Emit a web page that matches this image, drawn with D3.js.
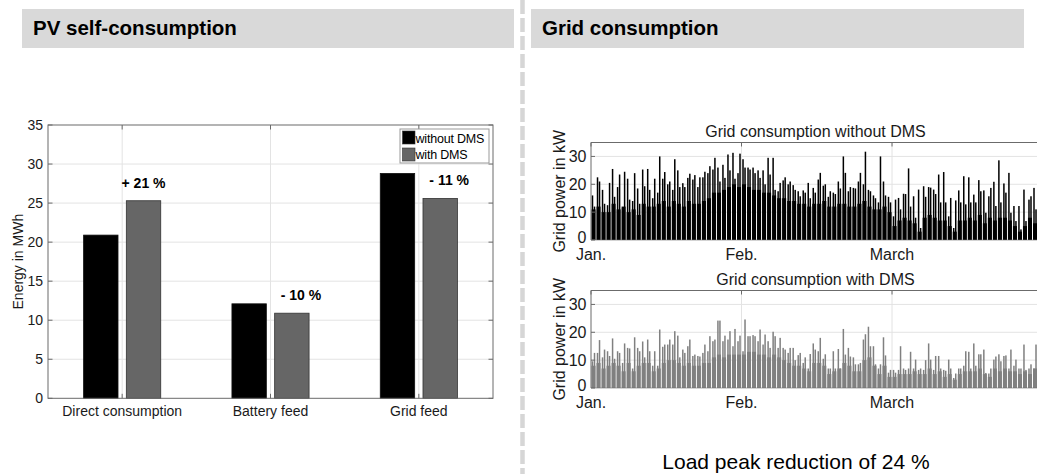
<!DOCTYPE html>
<html>
<head>
<meta charset="utf-8">
<script src="https://cdn.jsdelivr.net/npm/d3@7"></script>
<style>
  html, body { margin: 0; padding: 0; background: #fff; }
  svg { display: block; font-family: "Liberation Sans", Arial, sans-serif; }
</style>
</head>
<body>
<script>
// ---------------- DATA ----------------
const categories = ["Direct consumption", "Battery feed", "Grid feed"];
const withoutDMS = [20.9, 12.1, 28.8];
const withDMS = [25.3, 10.9, 25.6];
const changeLabels = ["+ 21 %", "- 10 %", "- 11 %"];
const seriesNames = ["without DMS", "with DMS"];
const energyTicks = [0, 5, 10, 15, 20, 25, 30, 35];

const monthLabels = ["Jan.", "Feb.", "March"];
const monthTickDays = [0, 30, 60];
const powerTicks = [0, 10, 20, 30];

// grid consumption without DMS: two load spikes per day (kW), days 1..90
const peaksWithout = [
  16,12, 22.5,21, 18,13, 12.5,20.5, 25.5,15.5, 19,23.5, 11.5,24.5, 22,14.5, 14,24, 18.5,13,
  25.3,19.3, 25.5,18, 15,22, 17,30, 22,24.4, 20,21, 18,29, 25,19, 20.4,19, 22.3,23.8,
  21.7,23.3, 19,22.5, 22.5,24.5, 24,26.5, 25.3,29.5, 26,21, 27,22.3, 30.7,25, 31.3,22, 24,31,
  29,26, 26,25.3, 26,24, 25,22.3, 25,20, 29.5,23.5, 29.5,18, 17.5,20.5, 21.4,22.5, 20,21,
  19.7,18, 17.5,15.7, 17.8,17, 20.5,15, 18.7,17, 21.7,24.1, 19.5,20, 15.5,17.5, 17,16.5, 21,18.5,
  30,24.1, 17.5,19, 18.7,18.5, 21,24.1, 20,31.7, 18,17.5, 16,15, 13.5,30, 21,16, 15.5,13.5,
  8.5,14.5, 15.1,11, 16.6,16.5, 25.7,12, 15.7,8, 18.1,4.3, 19.3,15.5, 19,18.8, 18.1,16.5, 23.5,13.5,
  24.4,13.5, 8.5,15.1, 4.3,14.2, 17.8,13.5, 22.9,12.8, 22.5,13.5, 16.3,13.5, 21.5,17.5, 17.8,9.8, 15.7,18.7,
  20.9,12.2, 28.6,13.5, 20.3,17, 24.1,9.8, 12.2,6.8, 12.2,3.8, 18.1,6.8, 14.5,15.7, 18.7,11, 16,18
];
// daily base load without DMS (kW)
const baseWithout = [
  11,12,10,10,13,11,12,10,11,9, 13,12,12,13,14,12,14,13,12,14, 13,13,14,15,17,17,18,19,20,19,
  20,19,18,18,17,17,16,15,15,14, 14,13,13,12,13,13,14,12,12,13, 13,12,12,13,14,12,11,11,12,10,
  5,7,8,7,6,3,8,9,8,7, 7,5,3,7,7,8,7,9,6,8, 7,8,8,7,5,3,5,8,6,8
];
// grid consumption with DMS: two load spikes per day (kW)
const peaksWith = [
  9.6,12.6, 12.6,17.2, 11,13.8, 13.2,11.5, 17.8,10.5, 13.2,12.6, 9,16, 14.4,14.2, 7,18.2, 14.4,13.2,
  16.7,11, 17.4,13.2, 8,13.2, 8,21, 14.8,15.6, 15.6,17.4, 15.6,20.4, 18.8,11, 13.8,12.6, 15,17.4,
  11.5,12, 11.5,11.3, 12.6,15.6, 13.2,18.6, 16.8,17.4, 24.2,24.2, 16.8,18.8, 17.4,20.4, 15,21.2, 16.8,18.8,
  13.2,24.6, 18.6,18.6, 19,18.6, 16.8,21, 15.6,19.2, 16.8,14.4, 20.2,18.6, 14.4,18, 14.4,13.8, 12.6,14.4,
  14.4,10, 11.8,12.6, 9,11, 7,12.2, 16,13.8, 13.2,18, 10.5,12.1, 7,7, 13.2,7, 14,7,
  21.2,12, 14.4,11.3, 11,8.5, 8.5,9, 17.4,19.3, 22,15, 15,8.5, 7,8.5, 18.2,11.7, 5.5,6.5,
  6.5,5.5, 6.5,15, 7,6.5, 7,13, 7,10.2, 6.5,7, 6.5,10, 16,10.2, 6.5,11.5, 11.5,7,
  6.5,6.2, 10.2,7, 3.6,5.2, 7,7, 8,13.2, 13,7, 16,8, 12.1,12.1, 13.8,5.4, 5.2,7,
  10.2,11.3, 12.1,9.6, 11.5,11.7, 7,13.8, 8,10.2, 7,7, 15.6,6.5, 7,8.5, 7,15.6, 8,7
];
// daily base load with DMS (kW)
const baseWith = [
  8,9,7,8,9,8,6,9,6,8, 9,9,6,7,9,10,10,9,8,9, 8,8,9,9,11,12,11,12,12,12,
  12,13,13,12,12,11,12,11,10,9, 8,8,7,6,9,9,8,5,6,7, 9,8,6,6,10,11,8,5,8,4,
  4,5,5,5,6,5,5,7,5,6, 4,5,3,5,6,6,6,7,5,4, 7,6,7,6,6,5,6,5,7,5
];

// ---------------- DRAWING ----------------
const W = 1037, H = 474;
const svg = d3.select("body").append("svg").attr("width", W).attr("height", H);
const txt = "#1a1a1a";
const axisCol = "#6b6b6b";
const gridCol = "#e3e3e3";

// Section headers
svg.append("rect").attr("x", 22).attr("y", 9).attr("width", 492).attr("height", 39).attr("fill", "#d9d9d9");
svg.append("rect").attr("x", 531).attr("y", 9).attr("width", 493).attr("height", 39).attr("fill", "#d9d9d9");
svg.append("text").attr("x", 33).attr("y", 35).attr("font-size", 20.5).attr("font-weight", "bold")
  .attr("fill", "#000").text("PV self-consumption");
svg.append("text").attr("x", 542).attr("y", 35).attr("font-size", 20.5).attr("font-weight", "bold")
  .attr("fill", "#000").text("Grid consumption");

// dashed separator
svg.append("line").attr("x1", 522.5).attr("x2", 522.5).attr("y1", 0).attr("y2", H)
  .attr("stroke", "#d6d6d6").attr("stroke-width", 4.5).attr("stroke-dasharray", "14,4");

// ---------- Bar chart ----------
(function barChart() {
  const L = 48, R = 493, T = 125, B = 398.3;
  const x = d3.scaleLinear().domain([0.5, 3.5]).range([L, R]);
  const y = d3.scaleLinear().domain([0, 35]).range([B, T]);
  const g = svg.append("g");
  const barW = 0.232, off = 0.144;

  g.selectAll(".hg").data(energyTicks.slice(1, -1)).join("line")
    .attr("x1", L).attr("x2", R).attr("y1", d => y(d)).attr("y2", d => y(d))
    .attr("stroke", gridCol).attr("stroke-width", 1);
  g.selectAll(".vg").data(categories).join("line")
    .attr("x1", (d, i) => x(i + 1)).attr("x2", (d, i) => x(i + 1)).attr("y1", T).attr("y2", B)
    .attr("stroke", gridCol).attr("stroke-width", 1);

  g.selectAll(".b0").data(withoutDMS).join("rect")
    .attr("x", (d, i) => x(i + 1 - off - barW / 2)).attr("width", x(barW) - x(0))
    .attr("y", d => y(d)).attr("height", d => y(0) - y(d))
    .attr("fill", "#000").attr("stroke", "#111").attr("stroke-width", 0.8);
  g.selectAll(".b1").data(withDMS).join("rect")
    .attr("x", (d, i) => x(i + 1 + off - barW / 2)).attr("width", x(barW) - x(0))
    .attr("y", d => y(d)).attr("height", d => y(0) - y(d))
    .attr("fill", "#666").attr("stroke", "#333").attr("stroke-width", 0.8);

  g.selectAll(".cl").data(changeLabels).join("text")
    .attr("x", (d, i) => x(i + 1 + off) + (d.startsWith("-") ? 9 : 0))
    .attr("y", (d, i) => y(withDMS[i]) - 13)
    .attr("text-anchor", "middle").attr("font-size", 14).attr("font-weight", "bold")
    .attr("fill", "#000").text(d => d);

  g.append("rect").attr("x", L).attr("y", T).attr("width", R - L).attr("height", B - T)
    .attr("fill", "none").attr("stroke", axisCol).attr("stroke-width", 1);

  const tl = 4.5;
  energyTicks.forEach(t => {
    g.append("line").attr("x1", L).attr("x2", L + tl).attr("y1", y(t)).attr("y2", y(t)).attr("stroke", axisCol);
    g.append("line").attr("x1", R).attr("x2", R - tl).attr("y1", y(t)).attr("y2", y(t)).attr("stroke", axisCol);
  });
  categories.forEach((c, i) => {
    g.append("line").attr("x1", x(i + 1)).attr("x2", x(i + 1)).attr("y1", B).attr("y2", B - tl).attr("stroke", axisCol);
    g.append("line").attr("x1", x(i + 1)).attr("x2", x(i + 1)).attr("y1", T).attr("y2", T + tl).attr("stroke", axisCol);
  });

  g.selectAll(".yl").data(energyTicks).join("text")
    .attr("x", L - 5).attr("y", d => y(d)).attr("dy", "0.35em")
    .attr("text-anchor", "end").attr("font-size", 14).attr("fill", txt).text(d => d);
  g.selectAll(".xl").data(categories).join("text")
    .attr("x", (d, i) => x(i + 1)).attr("y", 416)
    .attr("text-anchor", "middle").attr("font-size", 14).attr("fill", txt).text(d => d);
  g.append("text").attr("transform", `translate(23,${(T + B) / 2}) rotate(-90)`)
    .attr("text-anchor", "middle").attr("font-size", 14).attr("fill", txt).text("Energy in MWh");

  const lg = g.append("g");
  lg.append("rect").attr("x", 400).attr("y", 129).attr("width", 89).attr("height", 34)
    .attr("fill", "#fff").attr("stroke", "#999").attr("stroke-width", 1);
  const cols = ["#000", "#666"];
  seriesNames.forEach((s, i) => {
    lg.append("rect").attr("x", 402.5).attr("y", 131 + i * 17).attr("width", 12.5).attr("height", 13)
      .attr("fill", cols[i]).attr("stroke", "#333").attr("stroke-width", 0.6);
    lg.append("text").attr("x", 415.5).attr("y", 142.5 + i * 16.5).attr("font-size", 12.5)
      .attr("fill", "#000").attr("letter-spacing", -0.2).text(s);
  });
})();

// ---------- Time series panels ----------
function panel(top, title, peaks, base, color, clipId) {
  const L = 591, Rv = 1040, bottom = top + 97.5;
  const x = d3.scaleLinear().domain([0, 90]).range([L, L + 90 * 5.017]);
  const y = d3.scaleLinear().domain([0, 35]).range([bottom, top]);
  const g = svg.append("g");

  svg.append("clipPath").attr("id", clipId).append("rect")
    .attr("x", L).attr("y", top).attr("width", Rv - L).attr("height", bottom - top);

  g.selectAll(".hg").data(powerTicks.slice(1)).join("line")
    .attr("x1", L).attr("x2", Rv).attr("y1", d => y(d)).attr("y2", d => y(d))
    .attr("stroke", gridCol);
  g.selectAll(".vg").data(monthTickDays.slice(1)).join("line")
    .attr("x1", d => x(d)).attr("x2", d => x(d)).attr("y1", top).attr("y2", bottom)
    .attr("stroke", gridCol);

  const dg = g.append("g").attr("clip-path", `url(#${clipId})`);
  dg.selectAll(".base").data(base).join("rect")
    .attr("x", (d, i) => x(i + 0.1)).attr("width", x(0.8) - x(0))
    .attr("y", d => y(d)).attr("height", d => y(0) - y(d))
    .attr("fill", color);
  dg.selectAll(".spk").data(peaks).join("rect")
    .attr("x", (d, j) => x(Math.floor(j / 2) + (j % 2 ? 0.7 : 0.3)) - 0.75).attr("width", 1.5)
    .attr("y", d => y(d)).attr("height", d => y(0) - y(d))
    .attr("fill", color);

  g.append("line").attr("x1", L).attr("x2", Rv).attr("y1", top).attr("y2", top).attr("stroke", axisCol);
  g.append("line").attr("x1", L).attr("x2", L).attr("y1", top).attr("y2", bottom).attr("stroke", axisCol);
  g.append("line").attr("x1", L).attr("x2", Rv).attr("y1", bottom).attr("y2", bottom).attr("stroke", axisCol).attr("stroke-width", 0.6);
  powerTicks.forEach(t => {
    g.append("line").attr("x1", L).attr("x2", L + 4).attr("y1", y(t)).attr("y2", y(t)).attr("stroke", axisCol);
  });
  monthTickDays.forEach(t => {
    g.append("line").attr("x1", x(t)).attr("x2", x(t)).attr("y1", top).attr("y2", top + 4).attr("stroke", axisCol);
  });

  g.selectAll(".yl").data(powerTicks).join("text")
    .attr("x", 586.5).attr("y", d => y(d) - (d === 0 ? 3 : 0)).attr("dy", "0.35em")
    .attr("text-anchor", "end").attr("font-size", 16).attr("fill", txt).text(d => d);
  g.selectAll(".xl").data(monthTickDays).join("text")
    .attr("x", d => x(d)).attr("y", bottom + 20)
    .attr("text-anchor", "middle").attr("font-size", 16).attr("fill", txt)
    .text((d, i) => monthLabels[i]);
  g.append("text").attr("x", (L + Rv) / 2).attr("y", top - 6)
    .attr("text-anchor", "middle").attr("font-size", 16).attr("fill", txt).text(title);
  g.append("text").attr("transform", `translate(565,${(top + bottom) / 2}) rotate(-90)`)
    .attr("text-anchor", "middle").attr("font-size", 16).attr("fill", txt).text("Grid power in kW");
}

panel(142.5, "Grid consumption without DMS", peaksWithout, baseWithout, "#000", "clipTop");
panel(290.5, "Grid consumption with DMS", peaksWith, baseWith, "#808080", "clipBot");

svg.append("text").attr("x", 796).attr("y", 469).attr("text-anchor", "middle")
  .attr("font-size", 21).attr("fill", "#000").text("Load peak reduction of 24 %");
</script>
</body>
</html>
